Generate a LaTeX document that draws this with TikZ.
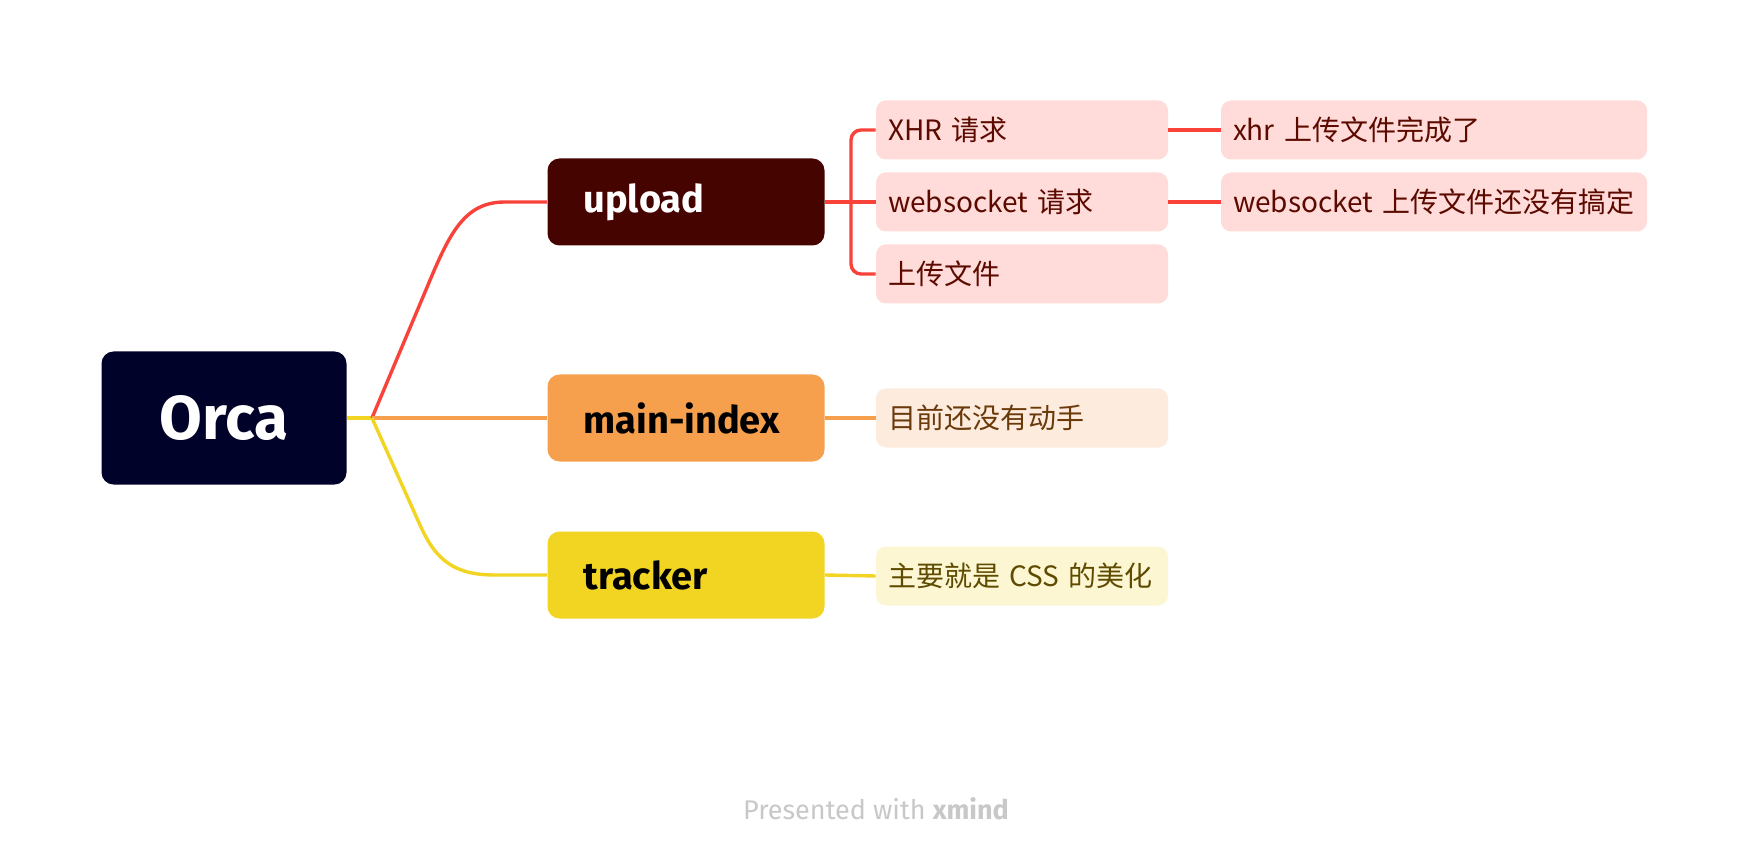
\documentclass[tikz,border=0pt]{standalone}
\usepackage{fontspec}
\setmainfont{Fira Sans}
\newfontfamily\cjk{Noto Sans CJK SC}
\definecolor{orcac}{HTML}{000229}
\definecolor{uploadc}{HTML}{450400}
\definecolor{orangec}{HTML}{F6A04D}
\definecolor{yellowc}{HTML}{F2D422}
\definecolor{redc}{HTML}{F9423A}
\definecolor{pinkc}{HTML}{FFDBD9}
\definecolor{pinktxt}{HTML}{5C0A00}
\definecolor{peachc}{HTML}{FDEBDD}
\definecolor{peachtxt}{HTML}{6B3A0B}
\definecolor{creamc}{HTML}{FDF6D3}
\definecolor{creamtxt}{HTML}{5E4B00}
\definecolor{footc}{HTML}{C8C8C8}
\begin{document}
\begin{tikzpicture}[x=0.5pt,y=-0.5pt,
  rootbox/.style={fill=orcac, text=white, rounded corners=6pt, minimum width=122.5pt, minimum height=66.5pt, inner sep=0pt, font=\fontsize{31}{36}\selectfont\bfseries},
  mainbox/.style={rounded corners=6pt, minimum height=43.5pt, text width=102.5pt, inner xsep=18pt, inner ysep=0pt, align=left, font=\fontsize{19}{23}\selectfont\bfseries},
  subbox/.style={fill=pinkc, text=pinktxt, rounded corners=5pt, minimum height=29.5pt, text width=134pt, inner xsep=6pt, inner ysep=0pt, align=left, font=\cjk\fontsize{14}{17}\selectfont},
  widebox/.style={subbox, text width=201pt},
  rd/.style={draw=redc, line width=1.7pt},
  og/.style={draw=orangec, line width=1.7pt},
  yl/.style={draw=yellowc, line width=1.7pt}]
\useasboundingbox[fill=white] (0,0) rectangle (1748,860);

\node[rootbox] (orca) at (224,418) {Orca};
\node[mainbox, fill=uploadc, text=white] (upload) at (686,202) {upload};
\node[mainbox, fill=orangec, text=black] (mainidx) at (686,418) {main-index};
\node[mainbox, fill=yellowc, text=black] (tracker) at (686,575) {tracker};

\node[subbox] (xhr) at (1022,130) {XHR 请求};
\node[subbox] (ws) at (1022,202) {websocket 请求};
\node[subbox] (upf) at (1022,274) {上传文件};
\node[widebox] (xhrdone) at (1434,130) {xhr 上传文件完成了};
\node[widebox] (wsdone) at (1434,202) {websocket 上传文件还没有搞定};
\node[subbox, fill=peachc, text=peachtxt] (notyet) at (1022,418) {目前还没有动手};
\node[subbox, fill=creamc, text=creamtxt] (css) at (1022,576) {主要就是 CSS 的美化};

\coordinate (j) at (372,418);
\coordinate (bk) at (851,202);

\draw[yl] (orca.east) -- (j);
\draw[rd] (j) -- (428,285) .. controls (450,232) and (465,202) .. (505,202) -- (upload.west);
\draw[og] (j) -- (mainidx.west);
\draw[yl] (j) -- (420,525) .. controls (436,561) and (455,575) .. (495,575) -- (tracker.west);

\draw[rd] (upload.east) -- (ws.west);
\draw[rd, rounded corners=5pt] (xhr.west) -| (bk) |- (upf.west);
\draw[rd] (xhr.east) -- (xhrdone.west);
\draw[rd] (ws.east) -- (wsdone.west);
\draw[og] (mainidx.east) -- (notyet.west);
\draw[yl] (tracker.east) -- (css.west);

\node[text=footc, font=\fontsize{13.5}{16}\selectfont] (foot) at (876,809) {Presented with \textbf{xmind}};
\end{tikzpicture}
\end{document}
